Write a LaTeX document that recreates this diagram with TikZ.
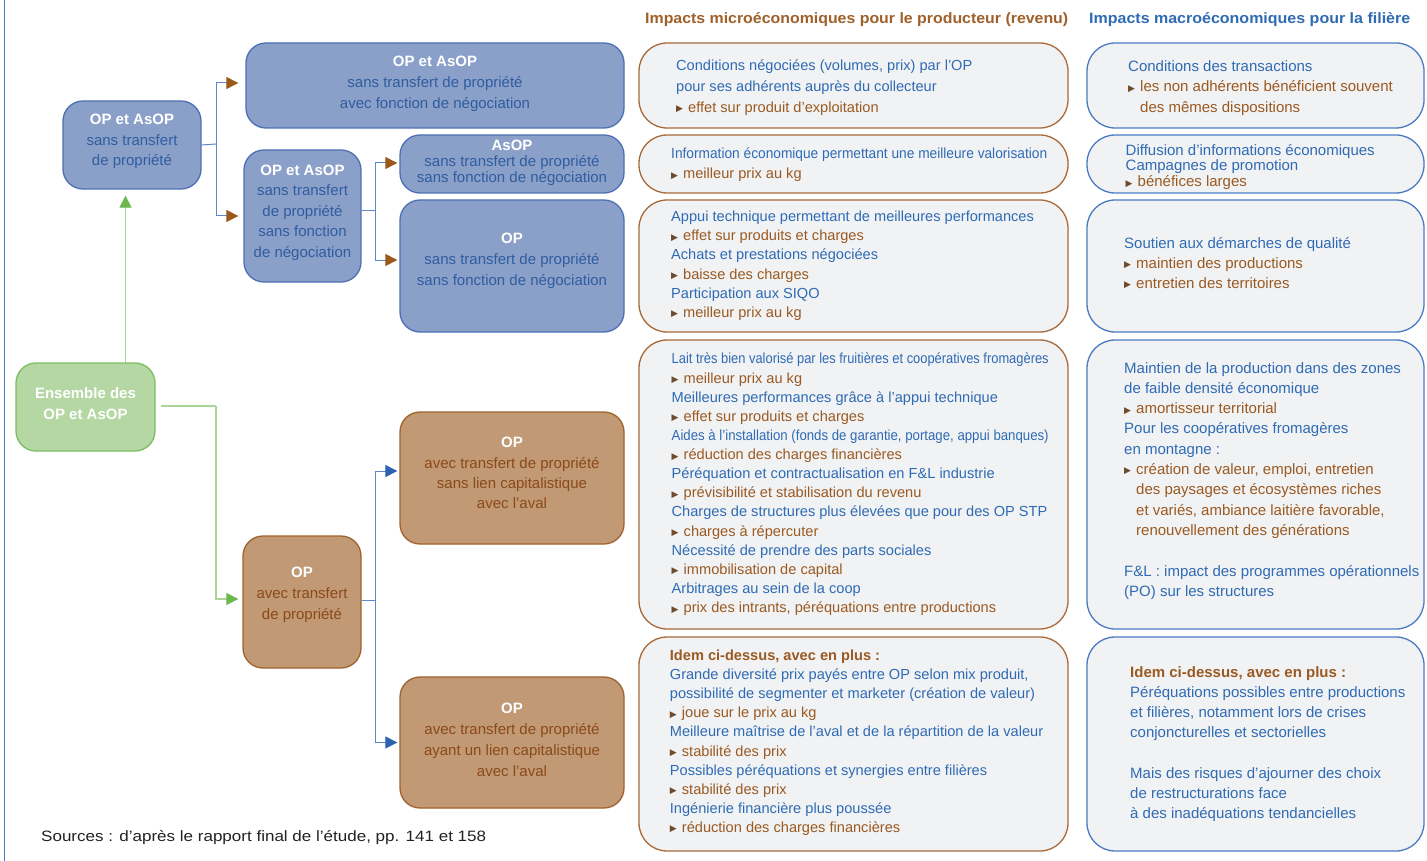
\documentclass[tikz,border=0pt]{standalone}
\usepackage{fontspec}
\setmainfont{Liberation Sans}
\newfontfamily\dejavu{DejaVu Sans}
\usetikzlibrary{arrows.meta,calc}
\definecolor{bfill}{HTML}{8BA0C9}
\definecolor{bbord}{HTML}{4D6FB3}
\definecolor{btext}{HTML}{2F5DA0}
\definecolor{rfill}{HTML}{C19974}
\definecolor{rbord}{HTML}{A0622C}
\definecolor{rtext}{HTML}{8B4A1A}
\definecolor{gfill}{HTML}{B4D7A3}
\definecolor{gbord}{HTML}{7DBE62}
\definecolor{gline}{HTML}{A9D597}
\definecolor{garrow}{HTML}{6CB84E}
\definecolor{pfill}{HTML}{F1F2F4}
\definecolor{pbrown}{HTML}{A86A3A}
\definecolor{pblue}{HTML}{4A7BC2}
\definecolor{tblue}{HTML}{2F6BB4}
\definecolor{tbrown}{HTML}{9A5A22}
\definecolor{bulcol}{HTML}{6E4B2C}
\definecolor{hbrown}{HTML}{A0602A}
\definecolor{cline}{HTML}{5E86C9}
\definecolor{abrown}{HTML}{9B5A1C}
\definecolor{ablue}{HTML}{2E63B1}
\definecolor{srctext}{HTML}{222222}
\newcommand\bul{\makebox[12pt][l]{\color{bulcol}\dejavu\fontsize{9}{9}\selectfont\raisebox{0.6pt}{▶}}}
\newcommand\sq[2]{\resizebox{#1}{\height}{#2}}
\newcommand\brl[1]{{\color{tbrown}\bul #1}}
\newcommand\brc[1]{{\color{tbrown}\hspace*{12pt}#1}}
\begin{document}
\begin{tikzpicture}[x=1pt,y=-1pt,
  bluebox/.style={draw=bbord, fill=bfill, line width=1.3pt, rounded corners=20pt, inner sep=0pt},
  brownbox/.style={draw=rbord, fill=rfill, line width=1.3pt, rounded corners=20pt, inner sep=0pt},
  greenbox/.style={draw=gbord, fill=gfill, line width=1.3pt, rounded corners=20pt, inner sep=0pt},
  mbox/.style={draw=pbrown, fill=pfill, line width=1.3pt, rounded corners=28pt, inner sep=0pt, minimum width=429pt},
  pbox/.style={draw=pblue, fill=pfill, line width=1.3pt, rounded corners=28pt, inner sep=0pt, minimum width=337pt},
  ltxt/.style={align=center, inner sep=0pt},
  btxt/.style={ltxt, text=btext},
  rtxt/.style={ltxt, text=rtext},
  rcol/.style={align=left, inner sep=0pt, anchor=north west, text=tblue},
  conn/.style={draw=cline, line width=1pt},
  gconn/.style={draw=gline, line width=1.2pt},
  tipbr/.style={-{Triangle[length=12pt,width=12pt,color=abrown]}},
  tipbl/.style={-{Triangle[length=12pt,width=12pt,color=ablue]}},
  tipg/.style={-{Triangle[length=12pt,width=12pt,color=garrow]}}
]
\useasboundingbox (0,0) rectangle (1427,861);
\fill[white] (0,0) rectangle (1427,861);
\draw[draw=pblue, line width=1.2pt] (4.5,0) -- (4.5,861);

% headers
\node[anchor=west, inner sep=0pt, text=hbrown, font=\bfseries\fontsize{15}{18}\selectfont] (h1) at (645,20) {\sq{423pt}{Impacts microéconomiques pour le producteur (revenu)}};
\node[anchor=west, inner sep=0pt, text=tblue, font=\bfseries\fontsize{15}{18}\selectfont] (h2) at (1089,20) {\sq{321pt}{Impacts macroéconomiques pour la filière}};

% left boxes
\node[bluebox, minimum width=138pt, minimum height=88pt] (B1) at (132,145) {};
\node[bluebox, minimum width=378pt, minimum height=85pt] (B2) at (435,85.5) {};
\node[bluebox, minimum width=117pt, minimum height=132pt] (B3) at (302.5,216) {};
\node[bluebox, minimum width=224pt, minimum height=58pt] (B4) at (512,164) {};
\node[bluebox, minimum width=224pt, minimum height=132pt] (B5) at (512,266) {};
\node[greenbox, minimum width=139pt, minimum height=88pt] (G) at (85.5,407) {};
\node[brownbox, minimum width=118pt, minimum height=132pt] (R1) at (302,602) {};
\node[brownbox, minimum width=224pt, minimum height=132pt] (R2) at (512,478) {};
\node[brownbox, minimum width=224pt, minimum height=131pt] (R3) at (512,742.5) {};

\node[btxt, font=\fontsize{15}{20.5}\selectfont] (B1t) at (132,141.5) {{\color{white}\bfseries OP et AsOP}\\sans transfert\\de propriété};
\node[btxt, font=\fontsize{15}{21}\selectfont] (B2t) at (435,83.5) {{\color{white}\bfseries OP et AsOP}\\sans transfert de propriété\\avec fonction de négociation};
\node[btxt, font=\fontsize{15}{20.5}\selectfont] (B3t) at (302.5,212.5) {{\color{white}\bfseries OP et AsOP}\\sans transfert\\de propriété\\sans fonction\\de négociation};
\node[btxt, font=\fontsize{15}{16}\selectfont] (B4t) at (512,162.5) {{\color{white}\bfseries AsOP}\\sans transfert de propriété\\sans fonction de négociation};
\node[btxt, font=\fontsize{15}{21}\selectfont] (B5t) at (512,260.5) {{\color{white}\bfseries OP}\\sans transfert de propriété\\sans fonction de négociation};
\node[ltxt, text=white, font=\bfseries\fontsize{15}{20.5}\selectfont] (Gt) at (85.5,403.5) {Ensemble des\\OP et AsOP};
\node[rtxt, font=\fontsize{15}{21}\selectfont] (R1t) at (302,594.5) {{\color{white}\bfseries OP}\\avec transfert\\de propriété};
\node[rtxt, font=\fontsize{15}{20.3}\selectfont] (R2t) at (512,473) {{\color{white}\bfseries OP}\\avec transfert de propriété\\sans lien capitalistique\\avec l’aval};
\node[rtxt, font=\fontsize{15}{21}\selectfont] (R3t) at (512,740) {{\color{white}\bfseries OP}\\avec transfert de propriété\\ayant un lien capitalistique\\avec l’aval};

% connectors
\coordinate (j1) at (216,144);
\coordinate (j2) at (375,211);
\coordinate (j3) at (216,406);
\coordinate (j4) at (375,600);
\coordinate (gx) at (125.5,0);
\draw[conn] (B1.east) -- (j1);
\draw[conn, tipbr, shorten >=7pt] (j1) |- ([yshift=2.5pt]B2.west);
\draw[conn, tipbr, shorten >=5pt] (j1) |- (B3.west);
\draw[conn] (B3.east |- j2) -- (j2);
\draw[conn, tipbr, shorten >=2pt] (j2) |- ([yshift=1pt]B4.west);
\draw[conn, tipbr, shorten >=2pt] (j2) |- ([yshift=6pt]B5.west);
\draw[conn] (R1.east |- j4) -- (j4);
\draw[conn, tipbl, shorten >=2pt] (j4) |- ([yshift=7pt]R2.west);
\draw[conn, tipbl, shorten >=2pt] (j4) |- (R3.west);
\draw[gconn, tipg, shorten >=6pt] (G.north -| gx) -- (B1.south -| gx);
\draw[gconn] ([xshift=5pt]G.east |- j3) -- (j3);
\draw[gconn, tipg, shorten >=4pt] (j3) |- ([yshift=3pt]R1.west);

% right column boxes
\node[mbox, minimum height=85pt] (M1) at (853.5,85.5) {};
\node[mbox, minimum height=58pt] (M2) at (853.5,164) {};
\node[mbox, minimum height=132pt] (M3) at (853.5,266) {};
\node[mbox, minimum height=289pt] (M4) at (853.5,484.5) {};
\node[mbox, minimum height=214pt] (M5) at (853.5,744) {};
\node[pbox, minimum height=85pt] (P1) at (1255.5,85.5) {};
\node[pbox, minimum height=58pt] (P2) at (1255.5,164) {};
\node[pbox, minimum height=132pt] (P3) at (1255.5,266) {};
\node[pbox, minimum height=289pt] (P4) at (1255.5,484.5) {};
\node[pbox, minimum height=214pt] (P5) at (1255.5,744) {};

\node[rcol, font=\fontsize{14.6}{20.6}\selectfont] (M1t) at (676,60) {Conditions négociées (volumes, prix) par l’OP\\pour ses adhérents auprès du collecteur\\\brl{effet sur produit d’exploitation}};
\node[rcol, font=\fontsize{14.6}{20}\selectfont] (M2t) at (671,148) {\sq{376pt}{Information économique permettant une meilleure valorisation}\\\brl{meilleur prix au kg}};
\node[rcol, font=\fontsize{14.6}{19.2}\selectfont] (M3t) at (671,210.8) {Appui technique permettant de meilleures performances\\\brl{effet sur produits et charges}\\Achats et prestations négociées\\\brl{baisse des charges}\\Participation aux SIQO\\\brl{meilleur prix au kg}};
\node[rcol, font=\fontsize{14.6}{19.13}\selectfont] (M4t) at (671.5,353) {\sq{377pt}{Lait très bien valorisé par les fruitières et coopératives fromagères}\\\brl{meilleur prix au kg}\\Meilleures performances grâce à l’appui technique\\\brl{effet sur produits et charges}\\\sq{377pt}{Aides à l’installation (fonds de garantie, portage, appui banques)}\\\brl{réduction des charges financières}\\Péréquation et contractualisation en F\&L industrie\\\brl{prévisibilité et stabilisation du revenu}\\Charges de structures plus élevées que pour des OP STP\\\brl{charges à répercuter}\\Nécessité de prendre des parts sociales\\\brl{immobilisation de capital}\\Arbitrages au sein de la coop\\\brl{prix des intrants, péréquations entre productions}};
\node[rcol, font=\fontsize{14.6}{19.1}\selectfont] (M5t) at (669.7,649.8) {{\color{tbrown}\bfseries Idem ci-dessus, avec en plus :}\\Grande diversité prix payés entre OP selon mix produit,\\possibilité de segmenter et marketer (création de valeur)\\\brl{joue sur le prix au kg}\\Meilleure maîtrise de l’aval et de la répartition de la valeur\\\brl{stabilité des prix}\\Possibles péréquations et synergies entre filières\\\brl{stabilité des prix}\\Ingénierie financière plus poussée\\\brl{réduction des charges financières}};

\node[rcol, font=\fontsize{15}{20.6}\selectfont] (P1t) at (1128,60) {Conditions des transactions\\\brl{les non adhérents bénéficient souvent}\\\brc{des mêmes dispositions}};
\node[rcol, font=\fontsize{15}{15.9}\selectfont] (P2t) at (1125.5,143.8) {Diffusion d’informations économiques\\Campagnes de promotion\\\brl{bénéfices larges}};
\node[rcol, font=\fontsize{15}{20}\selectfont] (P3t) at (1124,236.8) {Soutien aux démarches de qualité\\\brl{maintien des productions}\\\brl{entretien des territoires}};
\node[rcol, font=\fontsize{15}{20.3}\selectfont] (P4t) at (1124,362) {Maintien de la production dans des zones\\de faible densité économique\\\brl{amortisseur territorial}\\Pour les coopératives fromagères\\en montagne :\\\brl{création de valeur, emploi, entretien}\\\brc{des paysages et écosystèmes riches}\\\brc{et variés, ambiance laitière favorable,}\\\brc{renouvellement des générations}\\[20.3pt]F\&L : impact des programmes opérationnels\\(PO) sur les structures};
\node[rcol, font=\fontsize{15}{20.2}\selectfont] (P5t) at (1130,666) {{\color{tbrown}\bfseries Idem ci-dessus, avec en plus :}\\Péréquations possibles entre productions\\et filières, notamment lors de crises\\conjoncturelles et sectorielles\\[20.5pt]Mais des risques d’ajourner des choix\\de restructurations face\\à des inadéquations tendancielles};

% source
\node[anchor=west, inner sep=0pt, text=srctext, font=\fontsize{15}{18}\selectfont] (src) at (41,838) {\sq{445pt}{Sources : d’après le rapport final de l'étude, pp. 141 et 158}};
\end{tikzpicture}
\end{document}
